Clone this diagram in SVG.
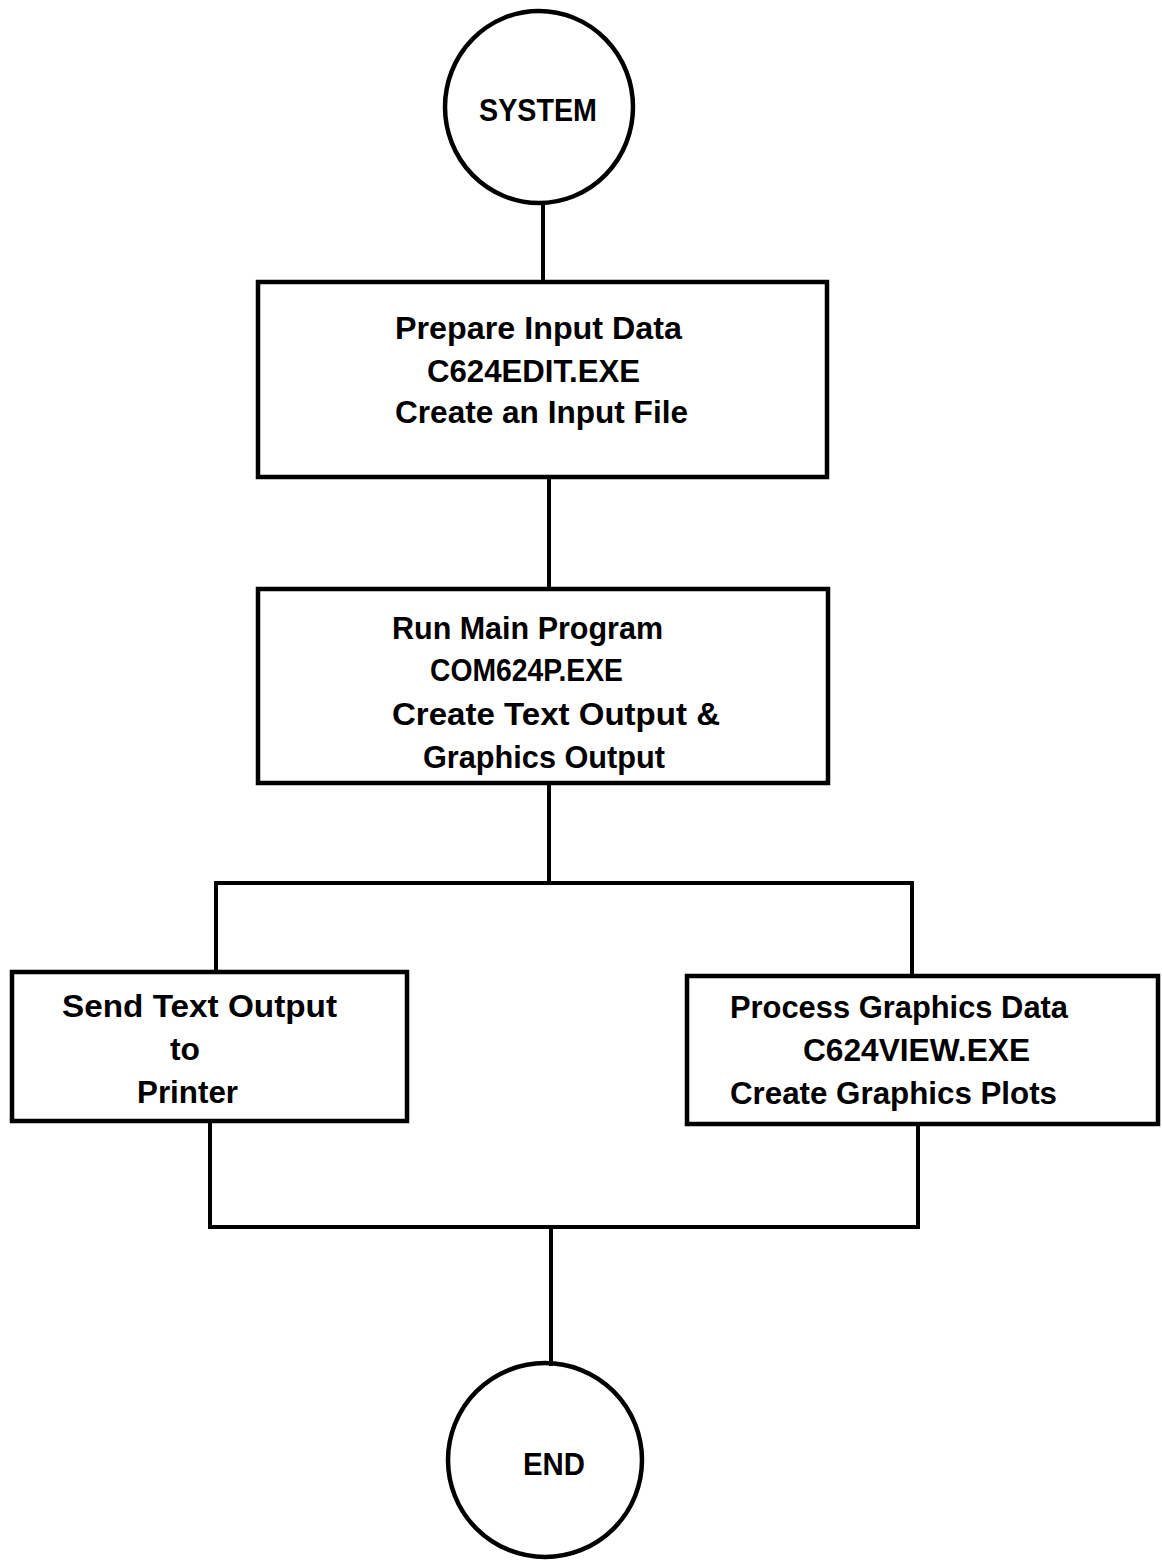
<svg xmlns="http://www.w3.org/2000/svg" width="1162" height="1567" viewBox="0 0 1162 1567">
<style>
.shape{fill:none;stroke:#000;stroke-width:4.5}
.conn{fill:none;stroke:#000;stroke-width:4;stroke-linecap:square}
.t{font-family:"Liberation Sans",Arial,sans-serif;font-weight:bold;font-size:32px;fill:#000}
</style>
<rect width="1162" height="1567" fill="#fff"/>
<g id="connectors">
<path class="conn" d="M543,203 V282"/>
<path class="conn" d="M549,477 V589"/>
<path class="conn" d="M549,783 V883"/>
<path class="conn" d="M216,972 V883 H912 V976"/>
<path class="conn" d="M210,1121 V1227 H918 V1124"/>
<path class="conn" d="M551,1227 V1364"/>
</g>
<g id="system">
<ellipse class="shape" cx="539" cy="107" rx="94" ry="96"/>
<text class="t" x="479" y="121" textLength="118" lengthAdjust="spacingAndGlyphs">SYSTEM</text>
</g>
<g id="prepare">
<rect class="shape" x="258" y="282" width="569" height="195"/>
<text class="t" x="395" y="339" textLength="287" lengthAdjust="spacingAndGlyphs">Prepare Input Data</text>
<text class="t" x="427" y="382" textLength="213" lengthAdjust="spacingAndGlyphs">C624EDIT.EXE</text>
<text class="t" x="395" y="423" textLength="293" lengthAdjust="spacingAndGlyphs">Create an Input File</text>
</g>
<g id="run">
<rect class="shape" x="258" y="589" width="570" height="194"/>
<text class="t" x="392" y="639" textLength="271" lengthAdjust="spacingAndGlyphs">Run Main Program</text>
<text class="t" x="430" y="681" textLength="193" lengthAdjust="spacingAndGlyphs">COM624P.EXE</text>
<text class="t" x="392" y="725" textLength="328" lengthAdjust="spacingAndGlyphs">Create Text Output &amp;</text>
<text class="t" x="423" y="768" textLength="242" lengthAdjust="spacingAndGlyphs">Graphics Output</text>
</g>
<g id="send">
<rect class="shape" x="12" y="972" width="395" height="149"/>
<text class="t" x="62" y="1017" textLength="275" lengthAdjust="spacingAndGlyphs">Send Text Output</text>
<text class="t" x="170" y="1060" textLength="30" lengthAdjust="spacingAndGlyphs">to</text>
<text class="t" x="137" y="1103" textLength="101" lengthAdjust="spacingAndGlyphs">Printer</text>
</g>
<g id="process">
<rect class="shape" x="687" y="976" width="471" height="148"/>
<text class="t" x="730" y="1018" textLength="338" lengthAdjust="spacingAndGlyphs">Process Graphics Data</text>
<text class="t" x="803" y="1061" textLength="227" lengthAdjust="spacingAndGlyphs">C624VIEW.EXE</text>
<text class="t" x="730" y="1104" textLength="327" lengthAdjust="spacingAndGlyphs">Create Graphics Plots</text>
</g>
<g id="end">
<ellipse class="shape" cx="545" cy="1460" rx="97" ry="97"/>
<text class="t" x="523" y="1475" textLength="62" lengthAdjust="spacingAndGlyphs">END</text>
</g>
</svg>
